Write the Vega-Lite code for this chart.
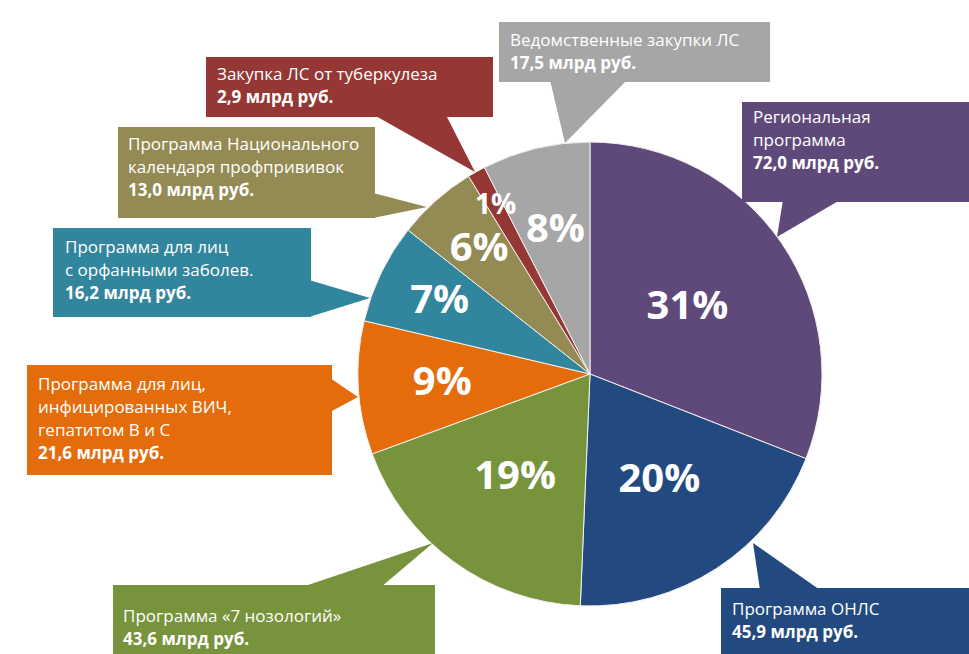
{
  "$schema": "https://vega.github.io/schema/vega-lite/v6.json",
  "width": 969,
  "height": 654,
  "padding": 0,
  "autosize": {"type": "fit", "contains": "padding"},
  "background": "#ffffff",
  "config": {"view": {"stroke": null}},
  "datasets": {
    "shares": [
      {"k": 1, "name": "Региональная программа", "value": 72.0, "pct": "31%"},
      {"k": 2, "name": "Программа ОНЛС", "value": 45.9, "pct": "20%"},
      {"k": 3, "name": "Программа «7 нозологий»", "value": 43.6, "pct": "19%"},
      {"k": 4, "name": "Программа для лиц, инфицированных ВИЧ, гепатитом В и С", "value": 21.6, "pct": "9%"},
      {"k": 5, "name": "Программа для лиц с орфанными заболев.", "value": 16.2, "pct": "7%"},
      {"k": 6, "name": "Программа Национального календаря профпрививок", "value": 13.0, "pct": "6%"},
      {"k": 7, "name": "Закупка ЛС от туберкулеза", "value": 2.9, "pct": "1%"},
      {"k": 8, "name": "Ведомственные закупки ЛС", "value": 17.5, "pct": "8%"}
    ],
    "boxes": [
      {"name": "Ведомственные закупки ЛС", "x1": 499, "x2": 770, "y1": 22, "y2": 82, "tx": 510, "ty": 46, "lines": ["Ведомственные закупки ЛС"], "amount": "17,5 млрд руб."},
      {"name": "Закупка ЛС от туберкулеза", "x1": 206, "x2": 493, "y1": 57, "y2": 117, "tx": 217, "ty": 80, "lines": ["Закупка ЛС от туберкулеза"], "amount": "2,9 млрд руб."},
      {"name": "Программа Национального календаря профпрививок", "x1": 118, "x2": 375, "y1": 127, "y2": 218, "tx": 128, "ty": 150, "lines": ["Программа Национального", "календаря профпрививок"], "amount": "13,0 млрд руб."},
      {"name": "Программа для лиц с орфанными заболев.", "x1": 53, "x2": 311, "y1": 228, "y2": 317, "tx": 65, "ty": 253, "lines": ["Программа для лиц", "с орфанными заболев."], "amount": "16,2 млрд руб."},
      {"name": "Программа для лиц, инфицированных ВИЧ, гепатитом В и С", "x1": 27, "x2": 332, "y1": 365, "y2": 475, "tx": 38, "ty": 390, "lines": ["Программа для лиц,", "инфицированных ВИЧ,", "гепатитом В и С"], "amount": "21,6 млрд руб."},
      {"name": "Программа «7 нозологий»", "x1": 113, "x2": 435, "y1": 585, "y2": 654, "tx": 123, "ty": 622, "lines": ["Программа «7 нозологий»"], "amount": "43,6 млрд руб."},
      {"name": "Программа ОНЛС", "x1": 721, "x2": 969, "y1": 588, "y2": 654, "tx": 732, "ty": 615, "lines": ["Программа ОНЛС"], "amount": "45,9 млрд руб."},
      {"name": "Региональная программа", "x1": 742, "x2": 969, "y1": 102, "y2": 202, "tx": 753, "ty": 123, "lines": ["Региональная", "программа"], "amount": "72,0 млрд руб."}
    ],
    "pointersH": [
      {"name": "Ведомственные закупки ЛС", "a": 80, "lo": 550, "hi": 627},
      {"name": "Ведомственные закупки ЛС", "a": 143, "lo": 565, "hi": 565},
      {"name": "Закупка ЛС от туберкулеза", "a": 115, "lo": 374, "hi": 446},
      {"name": "Закупка ЛС от туберкулеза", "a": 172, "lo": 475, "hi": 475},
      {"name": "Программа «7 нозологий»", "a": 587, "lo": 302, "hi": 381},
      {"name": "Программа «7 нозологий»", "a": 543, "lo": 433, "hi": 433},
      {"name": "Программа ОНЛС", "a": 590, "lo": 760, "hi": 820},
      {"name": "Программа ОНЛС", "a": 543, "lo": 753, "hi": 753},
      {"name": "Региональная программа", "a": 200, "lo": 783, "hi": 840},
      {"name": "Региональная программа", "a": 237, "lo": 777, "hi": 777}
    ],
    "pointersV": [
      {"name": "Программа Национального календаря профпрививок", "a": 373, "lo": 193, "hi": 218},
      {"name": "Программа Национального календаря профпрививок", "a": 427, "lo": 207, "hi": 207},
      {"name": "Программа для лиц с орфанными заболев.", "a": 309, "lo": 280, "hi": 317},
      {"name": "Программа для лиц с орфанными заболев.", "a": 370, "lo": 298, "hi": 298},
      {"name": "Программа для лиц, инфицированных ВИЧ, гепатитом В и С", "a": 330, "lo": 378, "hi": 412},
      {"name": "Программа для лиц, инфицированных ВИЧ, гепатитом В и С", "a": 358, "lo": 397, "hi": 397}
    ]
  },
  "layer": [
    {
      "data": {"name": "shares"},
      "mark": {"type": "arc", "outerRadius": 232, "stroke": "#f4eeee", "strokeWidth": 1},
      "encoding": {
        "x": {"datum": 590, "type": "quantitative", "scale": {"domain": [0, 969], "nice": false, "zero": false}, "axis": null},
        "y": {"datum": 374, "type": "quantitative", "scale": {"domain": [0, 654], "reverse": true, "nice": false, "zero": false}, "axis": null},
        "theta": {"field": "value", "type": "quantitative", "stack": true},
        "order": {"field": "k", "type": "quantitative"},
        "color": {
          "field": "name", "type": "nominal", "legend": null,
          "scale": {
            "domain": ["Региональная программа", "Программа ОНЛС", "Программа «7 нозологий»", "Программа для лиц, инфицированных ВИЧ, гепатитом В и С", "Программа для лиц с орфанными заболев.", "Программа Национального календаря профпрививок", "Закупка ЛС от туберкулеза", "Ведомственные закупки ЛС"],
            "range": ["#5f497a", "#234a80", "#77933c", "#e46c0a", "#31859c", "#948a54", "#953735", "#a6a6a6"]
          }
        }
      }
    },
    {
      "data": {"name": "pointersH"},
      "mark": {"type": "area", "orient": "horizontal", "opacity": 1},
      "encoding": {
        "y": {"field": "a", "type": "quantitative"},
        "x": {"field": "lo", "type": "quantitative"},
        "x2": {"field": "hi"},
        "color": {"field": "name", "type": "nominal", "legend": null}
      }
    },
    {
      "data": {"name": "pointersV"},
      "mark": {"type": "area", "orient": "vertical", "opacity": 1},
      "encoding": {
        "x": {"field": "a", "type": "quantitative"},
        "y": {"field": "lo", "type": "quantitative"},
        "y2": {"field": "hi"},
        "color": {"field": "name", "type": "nominal", "legend": null}
      }
    },
    {
      "data": {"name": "boxes"},
      "mark": {"type": "rect", "opacity": 1},
      "encoding": {
        "x": {"field": "x1", "type": "quantitative"},
        "x2": {"field": "x2"},
        "y": {"field": "y1", "type": "quantitative"},
        "y2": {"field": "y2"},
        "color": {"field": "name", "type": "nominal", "legend": null}
      }
    },
    {
      "data": {"name": "boxes"},
      "mark": {"type": "text", "align": "left", "baseline": "alphabetic", "font": "Open Sans", "fontSize": 17, "lineHeight": 23, "fill": "#ffffff"},
      "encoding": {
        "x": {"field": "tx", "type": "quantitative"},
        "y": {"field": "ty", "type": "quantitative"},
        "text": {"field": "lines"}
      }
    },
    {
      "data": {"name": "boxes"},
      "mark": {"type": "text", "align": "left", "baseline": "alphabetic", "font": "Open Sans", "fontSize": 17, "fontWeight": "bold", "fill": "#ffffff", "dy": {"expr": "length(datum.lines) * 23"}},
      "encoding": {
        "x": {"field": "tx", "type": "quantitative"},
        "y": {"field": "ty", "type": "quantitative"},
        "text": {"field": "amount"}
      }
    },
    {
      "data": {"name": "shares"},
      "mark": {"type": "text", "align": "center", "baseline": "middle", "font": "Open Sans", "fontWeight": "bold", "fill": "#ffffff", "radius": {"expr": "datum.value > 70 ? 118 : datum.value > 40 ? 127 : datum.value > 17 ? 148 : datum.value > 10 ? 167 : 193"}, "fontSize": {"expr": "datum.value < 5 ? 28 : 40"}},
      "encoding": {
        "x": {"datum": 590, "type": "quantitative"},
        "y": {"datum": 374, "type": "quantitative"},
        "theta": {"field": "value", "type": "quantitative", "stack": true},
        "order": {"field": "k", "type": "quantitative"},
        "text": {"field": "pct"}
      }
    }
  ]
}
